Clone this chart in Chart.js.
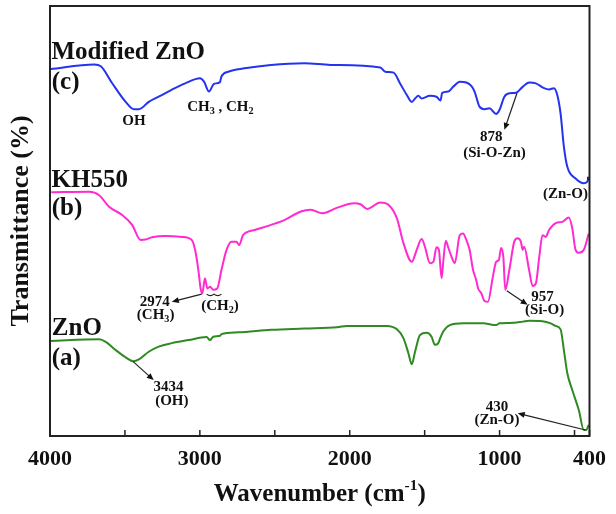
<!DOCTYPE html>
<html>
<head>
<meta charset="utf-8">
<script src="https://cdn.jsdelivr.net/npm/chart.js@4.4.1/dist/chart.umd.min.js"></script>
<style>
html, body { margin: 0; padding: 0; background: #fff; }
#wrap { width: 616px; height: 514px; position: relative; }
</style>
</head>
<body>
<div id="wrap"><canvas id="ftirChart"></canvas></div>
<script>
// --- Data: wavenumber (cm-1) and transmittance (%) ---
const modZnoWn = [4000, 3705, 3661, 3586, 3495, 3440, 3407, 3341, 3275, 3189,
    3098, 2999, 2972, 2939, 2906, 2866, 2856, 2811, 2701, 2526,
    2303, 2129, 1796, 1763, 1707, 1664, 1619, 1586, 1564, 1542,
    1520, 1465, 1421, 1394, 1383, 1343, 1310, 1266, 1222, 1189,
    1167, 1134, 1101, 1068, 1023, 1001, 968, 935, 891, 846,
    803, 758, 703, 670, 637, 615, 593, 571, 548, 493,
    438, 416, 405];
const modZnoT = [85.3, 86.4, 86.0, 82.1, 77.7, 76.0, 76.0, 77.7, 78.9, 80.5,
    82.0, 83.2, 82.4, 80.1, 81.9, 82.3, 83.6, 84.7, 85.5, 86.3,
    86.7, 86.3, 85.7, 84.7, 84.5, 82.0, 79.3, 77.7, 78.5, 79.1,
    78.5, 79.1, 78.9, 78.0, 79.8, 80.1, 81.2, 82.4, 82.2, 81.4,
    80.1, 76.6, 76.0, 76.2, 74.9, 75.8, 78.9, 79.7, 79.8, 81.2,
    82.2, 82.0, 80.9, 80.6, 80.9, 79.3, 75.0, 67.3, 62.6, 59.9,
    58.8, 59.1, 59.9];

const kh550Wn = [3992, 3738, 3672, 3606, 3518, 3452, 3396, 3363, 3319, 3230,
    3121, 3054, 3032, 3010, 2995, 2983, 2966, 2950, 2932, 2911,
    2884, 2856, 2822, 2789, 2756, 2738, 2712, 2634, 2525, 2436,
    2326, 2260, 2182, 2083, 1972, 1928, 1884, 1796, 1740, 1685,
    1641, 1586, 1553, 1520, 1498, 1465, 1442, 1421, 1405, 1387,
    1376, 1359, 1343, 1321, 1299, 1266, 1244, 1222, 1200, 1177,
    1156, 1143, 1122, 1101, 1078, 1045, 1023, 1005, 990, 975,
    962, 935, 902, 880, 858, 846, 836, 803, 780, 758,
    735, 714, 692, 670, 625, 581, 538, 515, 493, 471,
    438, 405];
const kh550T = [56.7, 56.8, 56.0, 53.3, 51.4, 49.1, 45.6, 45.7, 46.2, 46.5,
    46.3, 45.6, 43.3, 38.6, 34.3, 33.2, 36.7, 34.3, 34.7, 34.0,
    34.3, 38.6, 43.3, 45.2, 45.2, 44.4, 46.7, 47.9, 49.1, 50.2,
    52.2, 52.6, 51.8, 53.1, 54.1, 53.9, 52.8, 54.3, 53.7, 50.6,
    44.8, 40.5, 43.3, 45.8, 44.0, 40.2, 40.5, 43.9, 43.3, 36.7,
    40.5, 45.4, 43.9, 41.7, 40.2, 46.7, 47.1, 45.6, 43.3, 38.6,
    36.3, 34.3, 33.2, 31.4, 31.2, 37.0, 40.5, 40.9, 43.7, 41.7,
    34.0, 38.6, 45.2, 46.0, 45.2, 43.3, 44.0, 38.6, 34.9, 35.5,
    41.7, 46.7, 46.3, 47.9, 49.5, 49.8, 50.8, 48.3, 43.3, 42.6,
    43.3, 47.1];

const znoWn = [4000, 3672, 3628, 3562, 3495, 3445, 3407, 3341, 3275, 3187,
    3076, 2955, 2932, 2911, 2866, 2856, 2745, 2524, 2303, 2083,
    2017, 1752, 1685, 1641, 1608, 1586, 1564, 1531, 1487, 1454,
    1432, 1409, 1399, 1376, 1332, 1244, 1111, 1023, 1001, 935,
    846, 803, 714, 659, 626, 593, 571, 548, 515, 471,
    438, 422, 405];
const znoT = [22.1, 22.5, 21.9, 20.0, 18.3, 17.4, 17.8, 19.6, 20.8, 21.6,
    22.3, 23.0, 22.3, 23.1, 23.3, 23.7, 24.1, 24.7, 25.0, 25.3,
    25.6, 25.6, 24.8, 22.7, 19.2, 16.7, 19.6, 23.5, 24.0, 23.1,
    21.2, 21.6, 22.5, 24.3, 25.8, 26.2, 26.2, 25.8, 26.2, 26.3,
    26.6, 26.8, 26.7, 26.2, 25.6, 24.8, 20.0, 14.6, 10.7, 6.0,
    1.4, 1.4, 2.6];

const xTicks = [4000, 3500, 3000, 2500, 2000, 1500, 1000, 500, 400];
const xLabels = [4000, 3000, 2000, 1000, 400];

// sample labels, peak labels and arrows, placed at (wavenumber, transmittance)
const seriesLabels = [
    { text: "Modified ZnO", wn: 3990, t: 89.1 },
    { text: "(c)", wn: 3988, t: 82.1 },
    { text: "KH550", wn: 3990, t: 59.5 },
    { text: "(b)", wn: 3988, t: 53.0 },
    { text: "ZnO", wn: 3988, t: 24.9 },
    { text: "(a)", wn: 3988, t: 18.1 },
];
const peakLabels = [
    { text: "OH", wn: 3440, t: 73.3 },
    { text: "CH_{3} , CH_{2}", wn: 2863, t: 76.4 },
    { text: "878", wn: 1056, t: 69.5 },
    { text: "(Si-O-Zn)", wn: 1034, t: 65.9 },
    { text: "(Zn-O)", wn: 560, t: 56.3 },
    { text: "2974", wn: 3301, t: 31.2 },
    { text: "(CH_{3})", wn: 3295, t: 28.1 },
    { text: "(CH_{2})", wn: 2866, t: 30.1 },
    { text: "957", wn: 714, t: 32.2 },
    { text: "(Si-O)", wn: 699, t: 29.3 },
    { text: "3434", wn: 3209, t: 11.3 },
    { text: "(OH)", wn: 3187, t: 8.0 },
    { text: "430", wn: 1018, t: 6.8 },
    { text: "(Zn-O)", wn: 1018, t: 3.7 },
];
const arrows = [
    { from: [884, 79.7], to: [968, 71.2] },
    { from: [2988, 33.0], to: [3187, 31.2] },
    { from: [952, 33.8], to: [813, 30.5] },
    { from: [3445, 17.3], to: [3308, 13.0] },
    { from: [427, 1.4], to: [879, 5.3] },
];

const SERIF = '"Liberation Serif", "Times New Roman", serif';
const toPoints = (wn, t) => wn.map((w, i) => ({ x: w, y: t[i] }));

// --- Text helper: "_{..}" subscript, "^{..}" superscript ---
function drawRich(ctx, text, x, y, size, align) {
    const parts = text.split(/(_\{[^}]*\}|\^\{[^}]*\})/).filter((p) => p.length);
    const items = parts.map((p) => {
        if (p.startsWith("_{")) return { s: p.slice(2, -1), size: size * 0.68, dy: size * 0.28 };
        if (p.startsWith("^{")) return { s: p.slice(2, -1), size: size * 0.62, dy: -size * 0.38 };
        return { s: p, size, dy: 0 };
    });
    let total = 0;
    items.forEach((it) => {
        ctx.font = `bold ${it.size}px ${SERIF}`;
        it.w = ctx.measureText(it.s).width;
        total += it.w;
    });
    let cx = align === "left" ? x : x - total / 2;
    ctx.textAlign = "left";
    ctx.textBaseline = "middle";
    items.forEach((it) => {
        ctx.font = `bold ${it.size}px ${SERIF}`;
        ctx.fillText(it.s, cx, y + it.dy);
        cx += it.w;
    });
}

function drawArrow(ctx, x1, y1, x2, y2) {
    const ang = Math.atan2(y2 - y1, x2 - x1);
    const len = 7, half = 3;
    ctx.beginPath();
    ctx.moveTo(x1, y1);
    ctx.lineTo(x2 - Math.cos(ang) * len * 0.8, y2 - Math.sin(ang) * len * 0.8);
    ctx.stroke();
    ctx.beginPath();
    ctx.moveTo(x2, y2);
    ctx.lineTo(x2 - Math.cos(ang) * len - Math.sin(ang) * half, y2 - Math.sin(ang) * len + Math.cos(ang) * half);
    ctx.lineTo(x2 - Math.cos(ang) * len + Math.sin(ang) * half, y2 - Math.sin(ang) * len - Math.cos(ang) * half);
    ctx.closePath();
    ctx.fill();
}

const decorPlugin = {
    id: "decor",
    afterDraw(chart) {
        const { ctx, chartArea: a, scales } = chart;
        const px = (w) => scales.x.getPixelForValue(w);
        const py = (t) => scales.y.getPixelForValue(t);
        ctx.save();
        ctx.fillStyle = "#111";
        ctx.strokeStyle = "#222";

        // frame and inward ticks
        ctx.lineWidth = 2;
        ctx.strokeRect(a.left, a.top, a.right - a.left, a.bottom - a.top);
        ctx.lineWidth = 1.5;
        xTicks.forEach((v) => {
            const x = px(v);
            ctx.beginPath();
            ctx.moveTo(x, a.bottom);
            ctx.lineTo(x, a.bottom - 6);
            ctx.stroke();
        });

        // axis titles
        drawRich(ctx, "Wavenumber (cm^{-1})", (a.left + a.right) / 2, 495, 25, "center");
        ctx.save();
        ctx.translate(21, (a.top + a.bottom) / 2);
        ctx.rotate(-Math.PI / 2);
        drawRich(ctx, "Transmittance (%)", 0, 0, 26, "center");
        ctx.restore();

        // sample names
        seriesLabels.forEach((l) => drawRich(ctx, l.text, px(l.wn), py(l.t), 25, "left"));

        // peak assignments
        peakLabels.forEach((l) => drawRich(ctx, l.text, px(l.wn), py(l.t), 15, "center"));

        // small brace over the CH2 doublet
        ctx.lineWidth = 1.2;
        ctx.beginPath();
        const bx0 = px(2955), bx1 = px(2856), by = py(33.0);
        ctx.moveTo(bx0, by);
        ctx.quadraticCurveTo((bx0 + bx1) / 4 + bx0 / 2, by + 3, (bx0 + bx1) / 2, by);
        ctx.quadraticCurveTo((bx0 + bx1) / 4 + bx1 / 2, by + 3, bx1, by);
        ctx.stroke();

        // arrows
        ctx.lineWidth = 1.2;
        arrows.forEach((ar) => drawArrow(ctx, px(ar.from[0]), py(ar.from[1]), px(ar.to[0]), py(ar.to[1])));
        ctx.restore();
    },
};

const ctx = document.getElementById("ftirChart");
new Chart(ctx, {
    type: "line",
    data: {
        datasets: [
            {
                label: "Modified ZnO",
                data: toPoints(modZnoWn, modZnoT),
                borderColor: "#2433f0",
                backgroundColor: "#1a1ab0",
                borderWidth: 2,
                pointRadius: (c) => (c.dataIndex === modZnoWn.length - 1 ? 2.5 : 0),
                pointStyle: "rect",
                pointBorderWidth: 0,
                cubicInterpolationMode: "monotone",
            },
            {
                label: "KH550",
                data: toPoints(kh550Wn, kh550T),
                borderColor: "#ff2bd0",
                borderWidth: 2,
                pointRadius: 0,
                cubicInterpolationMode: "monotone",
            },
            {
                label: "ZnO",
                data: toPoints(znoWn, znoT),
                borderColor: "#2f8a22",
                borderWidth: 2,
                pointRadius: 0,
                cubicInterpolationMode: "monotone",
            },
        ],
    },
    options: {
        responsive: true,
        maintainAspectRatio: false,
        animation: false,
        layout: { padding: { left: 50, top: 6, right: 22, bottom: 0 } },
        plugins: { legend: { display: false }, tooltip: { enabled: false } },
        scales: {
            x: {
                type: "linear",
                reverse: true,
                min: 400,
                max: 4000,
                afterBuildTicks: (s) => { s.ticks = xTicks.map((v) => ({ value: v })); },
                afterFit: (s) => { s.height = 78; },
                ticks: {
                    autoSkip: false,
                    maxRotation: 0,
                    padding: 10,
                    color: "#111",
                    font: { family: SERIF, size: 22, weight: "bold" },
                    callback: (v) => (xLabels.includes(v) ? String(v) : ""),
                },
                grid: { display: false, drawTicks: false },
                border: { display: false },
            },
            y: { display: false, min: 0, max: 100 },
        },
    },
    plugins: [decorPlugin],
});
</script>
</body>
</html>
